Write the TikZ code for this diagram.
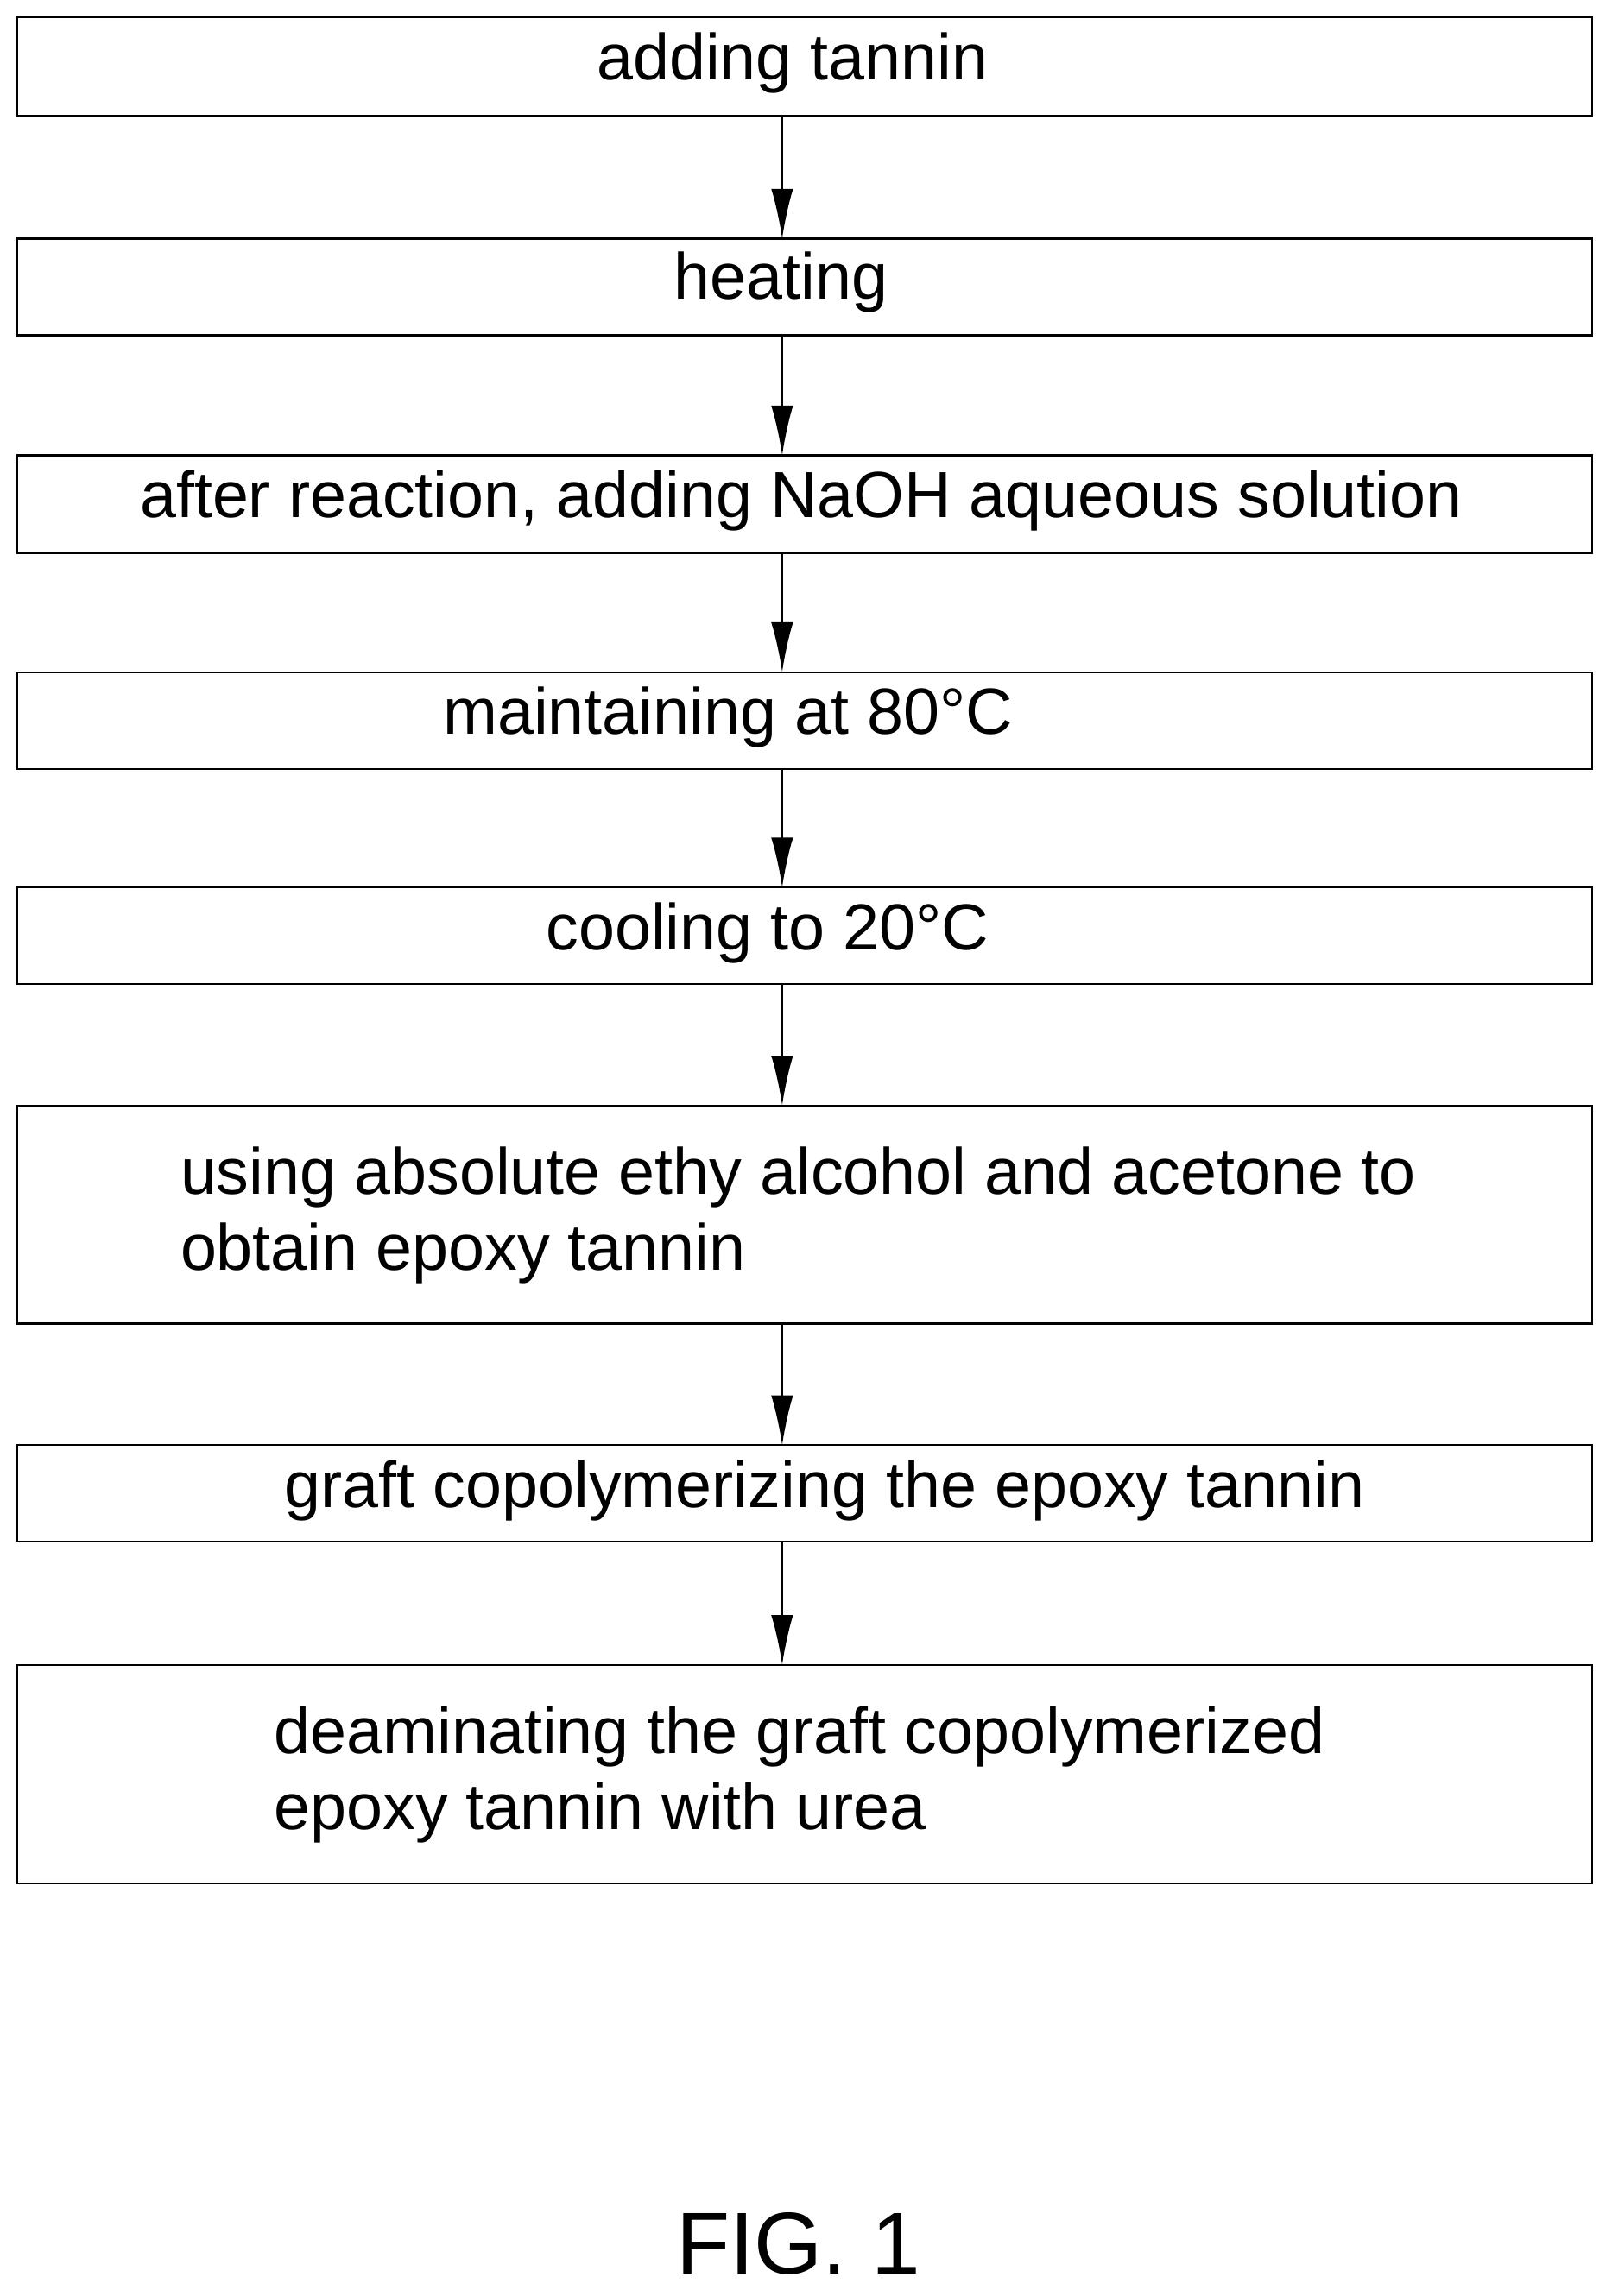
\documentclass[tikz,border=0pt]{standalone}
\usepackage{fontspec}
\setmainfont{Liberation Sans}
\usetikzlibrary{arrows.meta}
\begin{document}
\begin{tikzpicture}[x=1pt,y=-1pt,
  box/.style={draw,line width=1.3pt},
  txt/.style={font=\fontsize{44.5}{52}\selectfont,inner sep=0pt},
  arr/.style={line width=1.2pt,-{Latex[length=34pt,width=15pt]}}]
\useasboundingbox (0,0) rectangle (1100,1568);
\draw[box] (12,12) rectangle (1087,79);
\draw[box] (12,163) rectangle (1087,229);
\draw[box] (12,311) rectangle (1087,378);
\draw[box] (12,459) rectangle (1087,525);
\draw[box] (12,606) rectangle (1087,672);
\draw[box] (12,755) rectangle (1087,904);
\draw[box] (12,987) rectangle (1087,1053);
\draw[box] (12,1137) rectangle (1087,1286);
\node[txt] (t1) at (541,43) {adding tannin};
\node[txt] (t2) at (533,193) {heating};
\node[txt] (t3) at (547,342) {after reaction, adding NaOH aqueous solution};
\node[txt] (t4) at (497,490) {maintaining at 80°C};
\node[txt] (t5) at (524,637) {cooling to 20°C};
\node[txt,align=left,anchor=west] (t6) at (123,830) {using absolute ethy alcohol and acetone to\\obtain epoxy tannin};
\node[txt] (t7) at (563,1018) {graft copolymerizing the epoxy tannin};
\node[txt,align=left,anchor=west] (t8) at (187,1212) {deaminating the graft copolymerized\\epoxy tannin with urea};
\node[font=\fontsize{60}{70}\selectfont,inner sep=0pt] (fig) at (545,1532) {FIG. 1};
\coordinate (a1) at (534,79); \coordinate (b1) at (534,163);
\coordinate (a2) at (534,229); \coordinate (b2) at (534,311);
\coordinate (a3) at (534,378); \coordinate (b3) at (534,459);
\coordinate (a4) at (534,525); \coordinate (b4) at (534,606);
\coordinate (a5) at (534,672); \coordinate (b5) at (534,755);
\coordinate (a6) at (534,904); \coordinate (b6) at (534,987);
\coordinate (a7) at (534,1053); \coordinate (b7) at (534,1137);
\foreach \i in {1,...,7} \draw[arr] (a\i) -- (b\i);
\end{tikzpicture}
\end{document}
